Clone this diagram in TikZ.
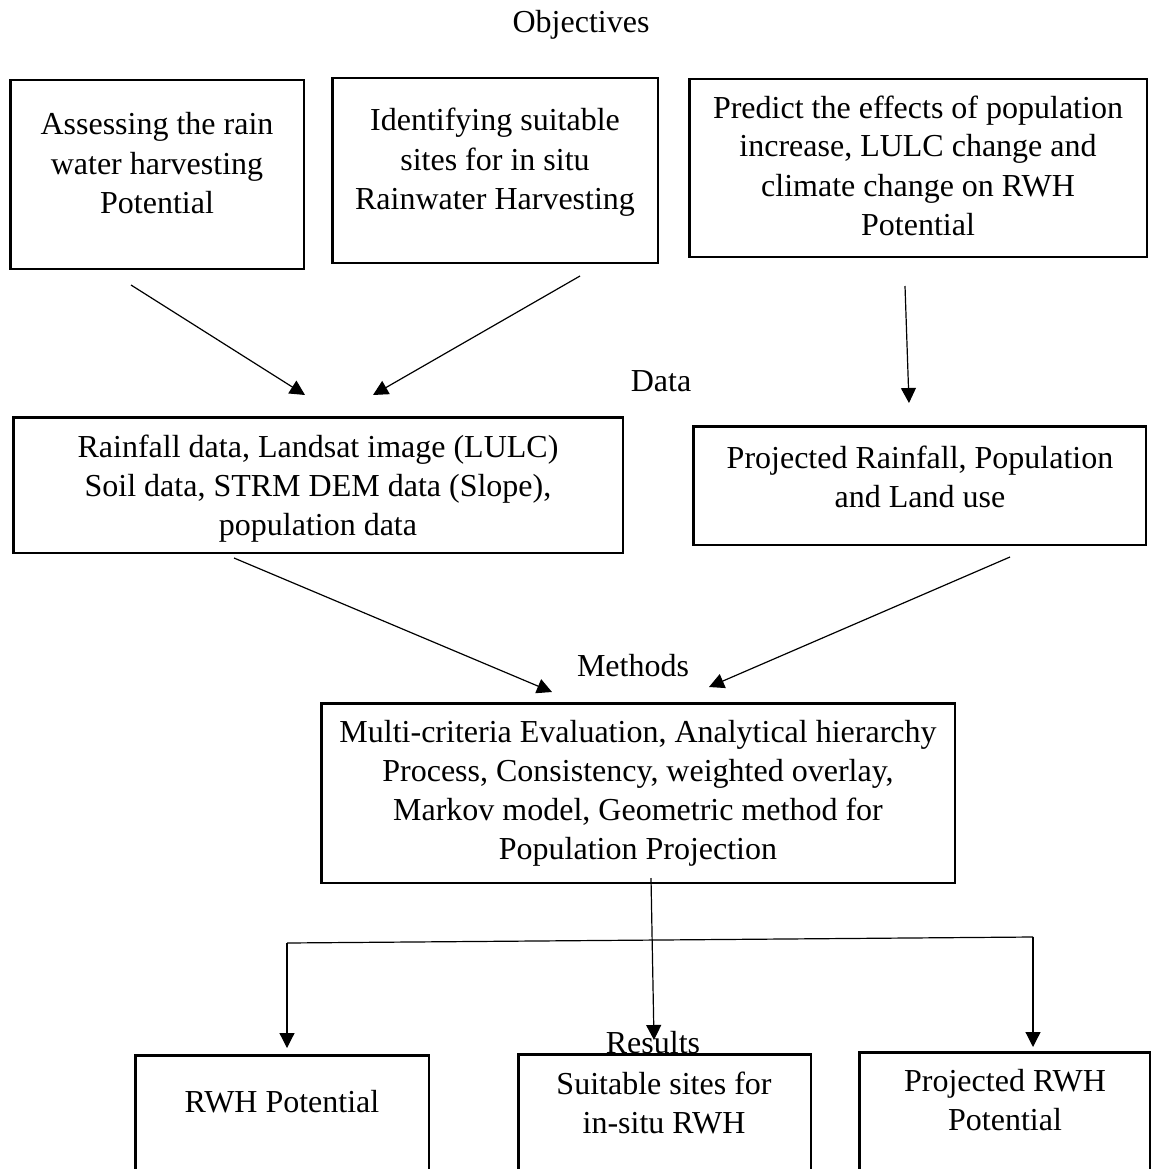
\documentclass[tikz,border=0pt]{standalone}
\usepackage{fontspec}
\setmainfont{Liberation Serif}
\usetikzlibrary{arrows.meta}
\begin{document}
\begin{tikzpicture}[x=1pt,y=-1pt,
  box/.style={draw, line width=2.5pt, inner sep=0pt},
  txt/.style={font=\fontsize{32}{39}\selectfont, align=center, inner sep=0pt},
  conn/.style={line width=1.2pt, -{Triangle[length=15pt,width=15pt]}},
  plainline/.style={line width=1.2pt}]
\clip (0,0) rectangle (1152,1169);
\fill[white] (0,0) rectangle (1152,1169);

% section labels
\node[txt, anchor=base] (lobj) at (581,33) {Objectives};
\node[txt, anchor=base] (ldata) at (661,391) {Data};
\node[txt, anchor=base] (lmeth) at (633,676) {Methods};

% objective boxes
\node[box, minimum width=293.5pt, minimum height=188.5pt] (b1) at (157,174.5) {};
\node[txt] (t1) at (157,166.2) {\strut Assessing the rain\\\strut water harvesting\\\strut Potential};
\node[box, minimum width=325.5pt, minimum height=184.5pt] (b2) at (495,170.5) {};
\node[txt] (t2) at (495,162.2) {\strut Identifying suitable\\\strut sites for in situ\\\strut Rainwater Harvesting};
\node[box, minimum width=457.5pt, minimum height=177.5pt] (b3) at (918,168) {};
\node[txt] (t3) at (918,168.7) {\strut Predict the effects of population\\\strut increase, LULC change and\\\strut climate change on RWH\\\strut Potential};

% data boxes
\node[box, minimum width=609.5pt, minimum height=135.5pt] (b4) at (318,485) {};
\node[txt] (t4) at (318,488.2) {\strut Rainfall data, Landsat image (LULC)\\\strut Soil data, STRM DEM data (Slope),\\\strut population data};
\node[box, minimum width=452.5pt, minimum height=118.5pt] (b5) at (919.5,485.5) {};
\node[txt] (t5) at (920,479.7) {\strut Projected Rainfall, Population\\\strut and Land use};

% methods box
\node[box, minimum width=633.5pt, minimum height=179.5pt] (b6) at (638,793) {};
\node[txt] (t6) at (638,792.7) {\strut Multi-criteria Evaluation, Analytical hierarchy\\\strut Process, Consistency, weighted overlay,\\\strut Markov model, Geometric method for\\\strut Population Projection};

% result boxes (cut off at the bottom)
\node[box, minimum width=293.5pt, minimum height=143.5pt] (b7) at (282,1127) {};
\node[txt, anchor=base] (t7) at (282,1112) {RWH Potential};
\node[box, minimum width=292.5pt, minimum height=144.5pt] (b8) at (664.5,1126.5) {};
\node[txt] (t8) at (664,1106.2) {\strut Suitable sites for\\\strut in-situ RWH};
\node[box, minimum width=290.5pt, minimum height=146.5pt] (b9) at (1004.5,1125.5) {};
\node[txt] (t9) at (1005,1103.2) {\strut Projected RWH\\\strut Potential};
\node[txt, anchor=base] (lres) at (653,1053) {Results};

% connector end points
\coordinate (s1) at (131,285);  \coordinate (e1) at (305,395);
\coordinate (s2) at (580,276);  \coordinate (e2) at (373,395);
\coordinate (s3) at (905,286);  \coordinate (e3) at (909,403);
\coordinate (s4) at (234,558);  \coordinate (e4) at (552,692);
\coordinate (s5) at (1010,557); \coordinate (e5) at (709,687);
\coordinate (s6) at (651,878);  \coordinate (e6) at (654,1040);
\coordinate (hl) at (287,943);  \coordinate (hr) at (1033,937);
\coordinate (e7) at (287,1048); \coordinate (e8) at (1033,1047);

\draw[conn] (s1) -- (e1);
\draw[conn] (s2) -- (e2);
\draw[conn] (s3) -- (e3);
\draw[conn] (s4) -- (e4);
\draw[conn] (s5) -- (e5);
\draw[conn] (s6) -- (e6);
\draw[plainline] (hl) -- (hr);
\draw[conn] (hl) -- (e7);
\draw[conn] (hr) -- (e8);
\end{tikzpicture}
\end{document}
